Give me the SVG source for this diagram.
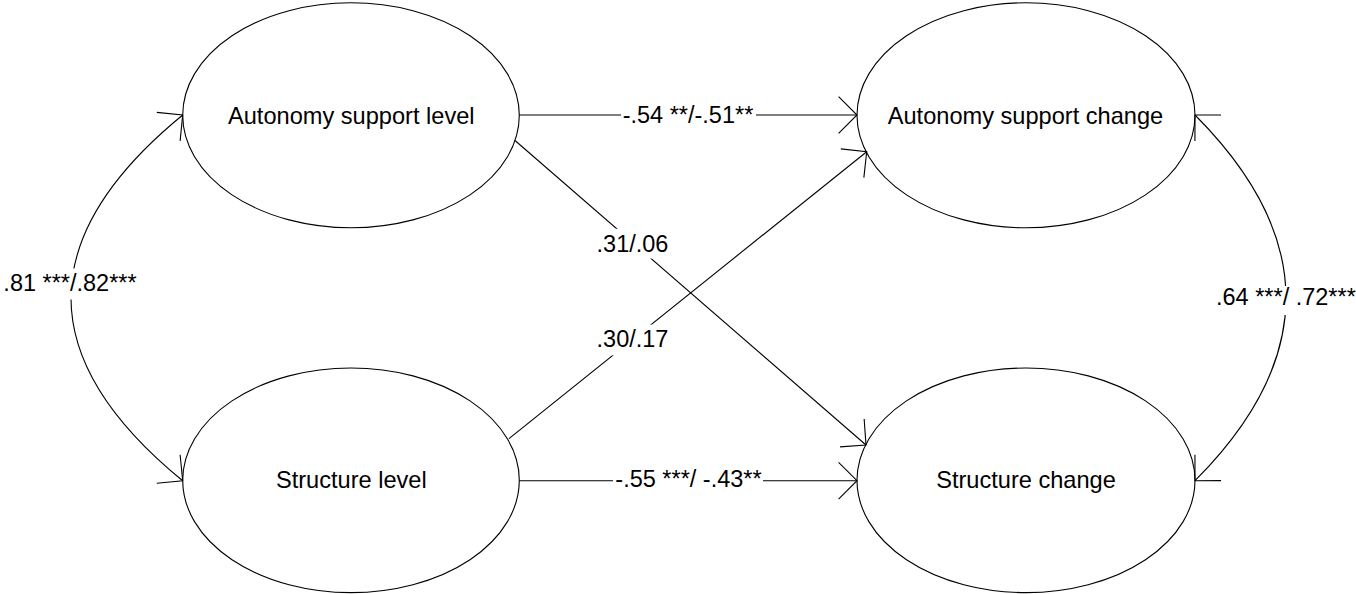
<svg xmlns="http://www.w3.org/2000/svg" width="1356" height="594" viewBox="0 0 1356 594">
  <style>
    .node ellipse { fill: #fff; stroke: #000; stroke-width: 1.1; }
    .node text { font-family: "Liberation Sans", Arial, sans-serif; font-size: 23.6px; fill: #000; text-anchor: middle; }
    .edge { fill: none; stroke: #000; stroke-width: 1.1; }
    .lbl-bg { fill: #fff; stroke: none; }
    .lbl { font-family: "Liberation Sans", Arial, sans-serif; font-size: 23.5px; fill: #000; }
  </style>
  <defs>
    <marker id="head" markerUnits="userSpaceOnUse" orient="auto-start-reverse" viewBox="-20 -20 22 40" refX="0" refY="0" markerWidth="22" markerHeight="40" overflow="visible">
      <path d="M-18.4,-18.4 L0,0 L-18.4,18.4" fill="none" stroke="#000" stroke-width="1.1"/>
    </marker>
  </defs>
  <rect width="1356" height="594" fill="#fff"/>

  <!-- latent variables -->
  <g id="node-autonomy-level" class="node">
    <ellipse cx="351" cy="115.3" rx="168.3" ry="112.5"/>
    <text x="351.3" y="124">Autonomy support level</text>
  </g>
  <g id="node-structure-level" class="node">
    <ellipse cx="351" cy="480.3" rx="168.3" ry="112.3"/>
    <text x="351.3" y="488">Structure level</text>
  </g>
  <g id="node-autonomy-change" class="node">
    <ellipse cx="1026" cy="115.3" rx="169" ry="112.5"/>
    <text x="1025.5" y="124">Autonomy support change</text>
  </g>
  <g id="node-structure-change" class="node">
    <ellipse cx="1026" cy="480.3" rx="169" ry="112.3"/>
    <text x="1026" y="488">Structure change</text>
  </g>

  <!-- paths and covariances -->
  <g id="connectors">
    <path class="edge" d="M519.3,115 L857,115" marker-end="url(#head)"/>
    <path class="edge" d="M519.3,480.7 L857,480.7" marker-end="url(#head)"/>
    <path class="edge" d="M515,140.5 L866,445" marker-end="url(#head)"/>
    <path class="edge" d="M509,438.6 L866.7,151.7" marker-end="url(#head)"/>
    <path class="edge" d="M182.7,115 Q-40.7,297.9 182.7,480.7" marker-start="url(#head)" marker-end="url(#head)"/>
    <path class="edge" d="M1195,115 Q1377,297.9 1195,480.7" marker-start="url(#head)" marker-end="url(#head)"/>

    <!-- coefficient labels -->
    <rect class="lbl-bg" x="621" y="105" width="135" height="20"/>
    <text class="lbl" x="688" y="122.7" text-anchor="middle">-.54 **/-.51**</text>

    <rect class="lbl-bg" x="596" y="228.8" width="74" height="29.8"/>
    <text class="lbl" x="632.5" y="251.7" text-anchor="middle">.31/.06</text>

    <rect class="lbl-bg" x="595" y="324.6" width="75" height="30.8"/>
    <text class="lbl" x="632.5" y="346.7" text-anchor="middle">.30/.17</text>

    <rect class="lbl-bg" x="613" y="470" width="150" height="20"/>
    <text class="lbl" x="688.5" y="487.3" text-anchor="middle">-.55 ***/ -.43**</text>

    <rect class="lbl-bg" x="2" y="268.5" width="136" height="31"/>
    <text class="lbl" x="70" y="290.7" text-anchor="middle">.81 ***/.82***</text>

    <rect class="lbl-bg" x="1214" y="286" width="142" height="29"/>
    <text class="lbl" x="1216" y="305">.64 ***/ .72***</text>
  </g>
</svg>
